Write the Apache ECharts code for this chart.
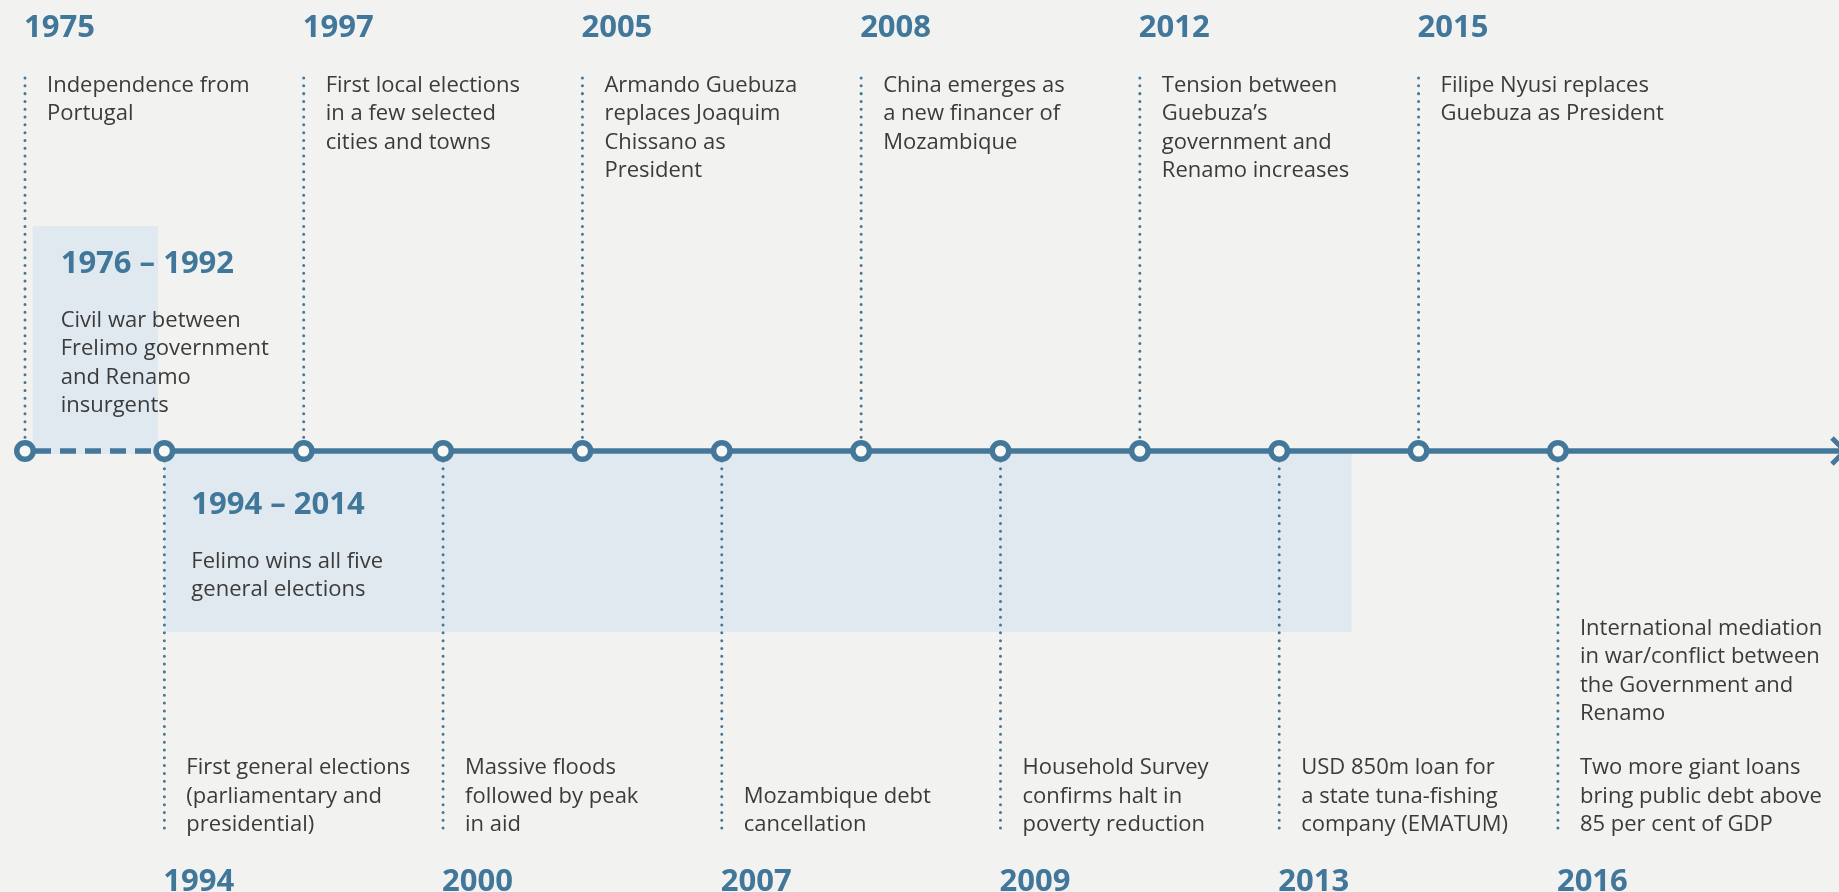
<!DOCTYPE html>
<html>
<head>
<meta charset="utf-8">
<script src="https://cdn.jsdelivr.net/npm/echarts@6/dist/echarts.min.js"></script>
<style>
  html, body { margin: 0; padding: 0; background: #f2f2f0; }
  #chart { width: 1839px; height: 892px; }
</style>
</head>
<body>
<div id="chart"></div>
<script>
// ---- Data ----
const years = ['1975', '1994', '1997', '2000', '2005', '2007', '2008', '2009', '2012', '2013', '2015', '2016'];
const sides = ['top', 'bottom', 'top', 'bottom', 'top', 'bottom', 'top', 'bottom', 'top', 'bottom', 'top', 'bottom'];
const notes = [
  'Independence from\nPortugal',
  'First general elections\n(parliamentary and\npresidential)',
  'First local elections\nin a few selected\ncities and towns',
  'Massive floods\nfollowed by peak\nin aid',
  'Armando Guebuza\nreplaces Joaquim\nChissano as\nPresident',
  'Mozambique debt\ncancellation',
  'China emerges as\na new financer of\nMozambique',
  'Household Survey\nconfirms halt in\npoverty reduction',
  'Tension between\nGuebuza\u2019s\ngovernment and\nRenamo increases',
  'USD 850m loan for\na state tuna-fishing\ncompany (EMATUM)',
  'Filipe Nyusi replaces\nGuebuza as President',
  'Two more giant loans\nbring public debt above\n85 per cent of GDP'
];
const extraNotes = ['', '', '', '', '', '', '', '', '', '', '',
  'International mediation\nin war/conflict between\nthe Government and\nRenamo'];

const periodLabels = ['1976 \u2013 1992', '1994 \u2013 2014'];
const periodNotes = ['Civil war between\nFrelimo government\nand Renamo\ninsurgents', 'Felimo wins all five\ngeneral elections'];
const periodStart = [0.055, 1];      // position on the event index scale
const periodEnd = [0.955, 9.52];
const periodSides = ['top', 'bottom'];

// ---- Layout / style constants ----
const W = 1839, H = 892;
const LINE_Y = 451;
const BLUE = '#44789a';
const YEAR_BLUE = '#40779a';
const TEXT = '#3b3b3b';
const FONT = '"Open Sans", "Liberation Sans", sans-serif';
const BG = '#f2f2f0';

const chart = echarts.init(document.getElementById('chart'), null, { renderer: 'canvas' });

const eventData = years.map((y, i) => [i, LINE_Y, i]);
const periodData = periodLabels.map((p, i) => [periodStart[i], periodEnd[i], i]);

const option = {
  backgroundColor: BG,
  animation: false,
  grid: { left: 0, right: 0, top: 0, bottom: 0 },
  xAxis: { type: 'value', min: -0.1794, max: 13.017, show: false },
  yAxis: { type: 'value', min: 0, max: H, inverse: true, show: false },
  series: [
    // period shaded boxes + labels
    {
      type: 'custom',
      z: 1,
      data: periodData,
      renderItem: function (params, api) {
        const i = api.value(2);
        const x0 = api.coord([api.value(0), LINE_Y])[0];
        const x1 = api.coord([api.value(1), LINE_Y])[0];
        const top = periodSides[i] === 'top';
        const y0 = top ? 226 : LINE_Y;
        const y1 = top ? 454 : 632;
        const tx = top ? x0 + 28 : x0 + 27;
        const titleY = top ? 264 : 505;
        const noteY = top ? 306 : 547;
        return {
          type: 'group',
          children: [
            { type: 'rect', shape: { x: x0, y: y0, width: x1 - x0, height: y1 - y0 },
              style: { fill: '#e1e9f0' } },
            { type: 'text', z2: 5, style: { text: periodLabels[i], x: tx, y: titleY,
              fill: YEAR_BLUE, font: 'bold 31px ' + FONT, verticalAlign: 'middle', align: 'left' } },
            { type: 'text', z2: 5, style: { text: periodNotes[i], x: tx, y: noteY,
              fill: TEXT, font: '22px ' + FONT, lineHeight: 28.5, verticalAlign: 'top', align: 'left' } }
          ]
        };
      }
    },
    // dashed early segment
    {
      type: 'line', z: 3, symbol: 'none', silent: true,
      data: [[0, LINE_Y], [1, LINE_Y]],
      lineStyle: { color: BLUE, width: 5.5, type: [16, 9], dashOffset: -10 }
    },
    // solid main timeline
    {
      type: 'line', z: 3, symbol: 'none', silent: true,
      data: [[1, LINE_Y], [13.2, LINE_Y]],
      lineStyle: { color: BLUE, width: 5.5 }
    },
    // arrow head
    {
      type: 'custom', z: 4, data: [[13.06, LINE_Y]],
      renderItem: function (params, api) {
        const p = api.coord([api.value(0), api.value(1)]);
        return { type: 'polyline', shape: { points: [[p[0] - 13, p[1] - 13], [p[0], p[1]], [p[0] - 13, p[1] + 13]] },
          style: { stroke: BLUE, lineWidth: 5, fill: null } };
      }
    },
    // event connectors and texts
    {
      type: 'custom', z: 2,
      data: eventData,
      renderItem: function (params, api) {
        const i = api.value(2);
        const p = api.coord([api.value(0), api.value(1)]);
        const top = sides[i] === 'top';
        const children = [];
        children.push({ type: 'line',
          shape: { x1: p[0], y1: top ? 78 : p[1] + 10, x2: p[0], y2: top ? p[1] - 10 : 829 },
          style: { stroke: BLUE, lineWidth: 3, lineDash: [0.01, 7.8], lineCap: 'round' } });
        children.push({ type: 'text', z2: 5, style: { text: years[i], x: p[0] - 1, y: top ? 28 : 882,
          fill: YEAR_BLUE, font: 'bold 31px ' + FONT, verticalAlign: 'middle', align: 'left' } });
        if (top) {
          children.push({ type: 'text', z2: 5, style: { text: notes[i], x: p[0] + 22, y: 71,
            fill: TEXT, font: '22px ' + FONT, lineHeight: 28.5, verticalAlign: 'top', align: 'left' } });
        } else {
          children.push({ type: 'text', z2: 5, style: { text: notes[i], x: p[0] + 22, y: 839,
            fill: TEXT, font: '22px ' + FONT, lineHeight: 28.5, verticalAlign: 'bottom', align: 'left' } });
        }
        if (extraNotes[i]) {
          children.push({ type: 'text', z2: 5, style: { text: extraNotes[i], x: p[0] + 22, y: 614,
            fill: TEXT, font: '22px ' + FONT, lineHeight: 28.5, verticalAlign: 'top', align: 'left' } });
        }
        return { type: 'group', children: children };
      }
    },
    // nodes
    {
      type: 'scatter', z: 5, silent: true,
      data: eventData.map(d => [d[0], d[1]]),
      symbol: 'circle', symbolSize: 16.5,
      itemStyle: { color: '#f8f8f6', borderColor: BLUE, borderWidth: 5.5, opacity: 1 }
    }
  ]
};
chart.setOption(option);
</script>
</body>
</html>
